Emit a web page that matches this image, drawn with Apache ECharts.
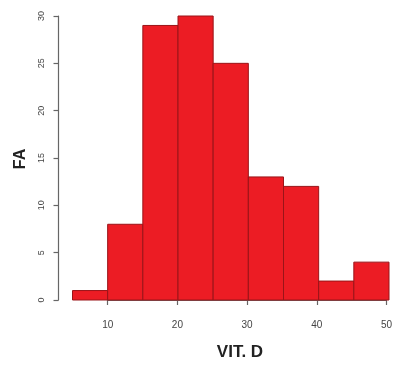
<!DOCTYPE html>
<html><head><meta charset="utf-8">
<script src="https://cdn.jsdelivr.net/npm/echarts@6/dist/echarts.min.js"></script>
<style>html,body{margin:0;padding:0;background:#fff}#c{width:395px;height:365px}</style>
</head><body><div id="c"></div>
<script>
const binStarts = [5, 10, 15, 20, 25, 30, 35, 40, 45];
const binEnds = [10, 15, 20, 25, 30, 35, 40, 45, 50];
const counts = [1, 8, 29, 30, 25, 13, 12, 2, 4];
const xTicks = [10, 20, 30, 40, 50];
const yTicks = [0, 5, 10, 15, 20, 25, 30];
const xTitle = 'VIT. D';
const yTitle = 'FA';

const data = binStarts.map((s, i) => [s, binEnds[i], counts[i]]);
const chart = echarts.init(document.getElementById('c'));
const axisCol = '#666';
const labCol = '#444';
chart.setOption({
  animation: false,
  backgroundColor: '#fff',
  grid: [
    {left: 72.5, right: 6, top: 16, bottom: 65},
    {left: 107.7, right: 6, top: 16, bottom: 65}
  ],
  xAxis: [
    {gridIndex: 0, type: 'value', min: binStarts[0], max: binEnds[binEnds.length - 1], show: false},
    {gridIndex: 1, type: 'value', min: xTicks[0], max: xTicks[xTicks.length - 1], interval: 10,
     offset: 11.5,
     axisLine: {show: true, lineStyle: {color: axisCol, width: 1.2}},
     axisTick: {show: true, length: 5, lineStyle: {color: axisCol, width: 1.2}},
     axisLabel: {fontSize: 10, color: labCol, margin: 9, fontFamily: 'Liberation Sans'},
     splitLine: {show: false}}
  ],
  yAxis: [
    {gridIndex: 0, type: 'value', min: yTicks[0], max: yTicks[yTicks.length - 1], interval: 5,
     offset: 14,
     axisLine: {show: true, lineStyle: {color: axisCol, width: 1.2}},
     axisTick: {show: true, length: 5, lineStyle: {color: axisCol, width: 1.2}},
     axisLabel: {fontSize: 9, color: labCol, margin: 12, rotate: 90, fontFamily: 'Liberation Sans'},
     splitLine: {show: false}},
    {gridIndex: 1, type: 'value', min: 0, max: 30, show: false}
  ],
  graphic: [
    {type: 'text', style: {text: xTitle, x: 240, y: 352, align: 'center', verticalAlign: 'middle', fontSize: 17, fontWeight: 'bold', fontFamily: 'Liberation Sans', fill: '#222'}},
    {type: 'text', x: 21, y: 159, rotation: Math.PI / 2, style: {text: yTitle, x: 0, y: 0, align: 'center', verticalAlign: 'middle', fontSize: 16, fontWeight: 'bold', fontFamily: 'Liberation Sans', fill: '#222'}}
  ],
  series: [{
    type: 'custom',
    xAxisIndex: 0, yAxisIndex: 0,
    data: data,
    renderItem: function (params, api) {
      const p0 = api.coord([api.value(0), 0]);
      const p1 = api.coord([api.value(1), api.value(2)]);
      return {
        type: 'rect',
        shape: {x: p0[0], y: p1[1], width: p1[0] - p0[0], height: p0[1] - p1[1]},
        style: {fill: '#ec1c24', stroke: '#9a1418', lineWidth: 1}
      };
    }
  }]
});
</script></body></html>
